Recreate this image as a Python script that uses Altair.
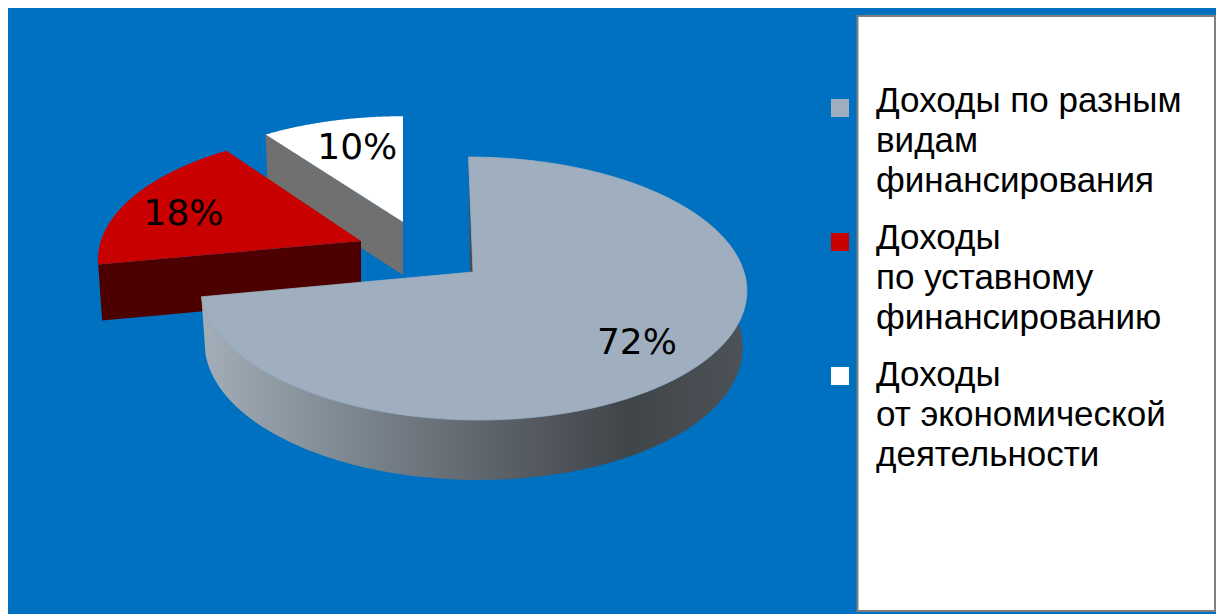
import math

import altair as alt
import pandas as pd

# Chart values
categories = ["Доходы по разным видам финансирования",
              "Доходы по уставному финансированию",
              "Доходы от экономической деятельности"]
shares = [72, 18, 10]
legend_lines = [
    ["Доходы по разным", "видам", "финансирования"],
    ["Доходы", "по уставному", "финансированию"],
    ["Доходы", "от экономической", "деятельности"],
]

# Colours
BLUE = "#0070c0"
TOP_COLORS = ["#a0afbf", "#c80000", "#ffffff"]
WALL_COLORS = ["#454b52", "#4d0000", "#707070"]

# Perspective pie layout: apex of each slice, its scale, shear and label placement
W, H = 1216, 614
RX, RY, TILT = 271, 129.4, 0.1255
APEX = [(473, 272), (361, 241), (403, 222)]
SCALE = [(1.0, 1.0), (0.96, 0.95), (0.95, 0.92)]
SHEAR = [5, -6, 0]
LABEL_RADIUS = [0.77, 0.78, 0.72]
LABEL_NUDGE = [(-10, 3), (3, 7), (7, 1)]
DEPTH = [56, 56, 53]


def project(i, theta, radius=1.0):
    """Map a point of the flat pie (clockwise degrees from top) to the tilted view."""
    u = radius * math.sin(math.radians(theta))
    v = radius * math.cos(math.radians(theta))
    s = 1 / (1 + TILT * v)
    sx, sy = SCALE[i]
    return (APEX[i][0] + (RX * u - SHEAR[i] * v) * s * sx,
            APEX[i][1] - RY * v * s * sy)


def lower(i, p, v=0.0):
    """Point on the underside of slice i, below the top-face point p."""
    ax = APEX[i][0]
    return (ax + (p[0] - ax) * 0.985, p[1] + DEPTH[i] - 4 * v)


def arc(i, start, end, steps=120):
    return [project(i, start + (end - start) * k / steps) for k in range(steps + 1)]


def polygon(points):
    ring = [list(p) for p in points]
    ring.append(ring[0])
    return {"type": "Feature", "properties": {},
            "geometry": {"type": "Polygon", "coordinates": [ring]}}


def shape(points, fill, **style):
    return alt.Chart(alt.Data(values=[polygon(points)])).mark_geoshape(
        fill=fill, clip=False, **style
    ).project(type="identity", scale=1, translate=[0, 0])


# Slice boundaries follow the shares, clockwise from the top
edges = [0]
for value in shares:
    edges.append(edges[-1] + value * 3.6)

x_scale = alt.Scale(domain=[0, W], range=[0, W])
y_scale = alt.Scale(domain=[0, H], range=[0, H])


def box(x0, y0, x1, y1, **style):
    frame = pd.DataFrame({"x": [x0], "x2": [x1], "y": [y0], "y2": [y1]})
    return alt.Chart(frame).mark_rect(**style).encode(
        x=alt.X("x:Q", scale=x_scale, axis=None),
        x2="x2:Q",
        y=alt.Y("y:Q", scale=y_scale, axis=None),
        y2="y2:Q",
    )


background = box(8, 8, W, H, color=BLUE)
panel = box(857.5, 16, 1215, 611, fill="#ffffff", stroke="#7f7f7f", strokeWidth=2)

# White slice: radial wall and top
i = 2
white_left = project(i, edges[2])
white_wall = [APEX[i], white_left, lower(i, white_left), lower(i, APEX[i])]
white_layers = [shape(white_wall, WALL_COLORS[i], strokeWidth=0),
                shape([APEX[i]] + arc(i, edges[2], edges[3]), TOP_COLORS[i], strokeWidth=0)]

# Red slice: radial wall and top
i = 1
red_left = project(i, edges[1])
red_wall = [APEX[i], red_left, lower(i, red_left), lower(i, APEX[i])]
red_layers = [shape(red_wall, WALL_COLORS[i], strokeWidth=0),
              shape([APEX[i]] + arc(i, edges[1], edges[2]), TOP_COLORS[i], strokeWidth=0)]

# Large slice: curved rim with a shaded gradient, thin inner wall, top
i = 0
rim_top = arc(i, 60, edges[1])
rim_bottom = []
for theta in [60 + (edges[1] - 60) * k / 120 for k in range(121)]:
    p = project(i, theta)
    rim_bottom.append(lower(i, p, math.cos(math.radians(theta))))
rim_fill = alt.Gradient(
    gradient="linear", x1=0, x2=1, y1=0, y2=0,
    stops=[
        alt.GradientStop(offset=0, color="#a3aeb9"),
        alt.GradientStop(offset=0.25, color="#7f8a93"),
        alt.GradientStop(offset=0.55, color="#5b6168"),
        alt.GradientStop(offset=0.78, color="#404549"),
        alt.GradientStop(offset=1, color="#4c5257"),
    ],
)
inner_wall = [project(i, 0), APEX[i], (APEX[i][0] - 3, APEX[i][1])]
main_layers = [shape(rim_top + rim_bottom[::-1], rim_fill, strokeWidth=0),
               shape(inner_wall, WALL_COLORS[i], strokeWidth=0),
               shape([APEX[i]] + arc(i, edges[0], edges[1]), TOP_COLORS[i],
                     stroke=TOP_COLORS[i], strokeWidth=0.8)]

# Percentage labels sit along each slice's middle direction
label_rows = []
for k, value in enumerate(shares):
    lx, ly = project(k, (edges[k] + edges[k + 1]) / 2, LABEL_RADIUS[k])
    label_rows.append({"x": lx + LABEL_NUDGE[k][0], "y": ly + LABEL_NUDGE[k][1],
                       "text": f"{value}%", "category": categories[k]})
labels = alt.Chart(pd.DataFrame(label_rows)).mark_text(
    font="DejaVu Sans", fontSize=36, color="#000000", align="center", baseline="middle"
).encode(
    x=alt.X("x:Q", scale=x_scale, axis=None),
    y=alt.Y("y:Q", scale=y_scale, axis=None),
    text="text:N",
)

# Legend: colour squares on the blue field, text inside the white panel
LEGEND_KEY_X, LEGEND_TEXT_X = 840, 876
LEGEND_KEY_Y = [108, 242, 376]
LEGEND_FIRST_BASE = [112, 249, 386]
LINE_STEP = 40

key_frame = pd.DataFrame({"x": [LEGEND_KEY_X] * 3, "y": LEGEND_KEY_Y,
                          "fill": TOP_COLORS})
legend_keys = alt.Chart(key_frame).mark_square(size=324, opacity=1, filled=True).encode(
    x=alt.X("x:Q", scale=x_scale, axis=None),
    y=alt.Y("y:Q", scale=y_scale, axis=None),
    color=alt.Color("fill:N", scale=None),
)

text_rows = []
for k, lines in enumerate(legend_lines):
    for n, line in enumerate(lines):
        text_rows.append({"x": LEGEND_TEXT_X, "y": LEGEND_FIRST_BASE[k] + n * LINE_STEP,
                          "text": line})
legend_text = alt.Chart(pd.DataFrame(text_rows)).mark_text(
    font="Liberation Sans", fontSize=35, color="#000000", align="left", baseline="alphabetic"
).encode(
    x=alt.X("x:Q", scale=x_scale, axis=None),
    y=alt.Y("y:Q", scale=y_scale, axis=None),
    text="text:N",
)

chart = alt.layer(
    background, panel,
    *white_layers, *red_layers, *main_layers,
    labels, legend_keys, legend_text,
).properties(
    width=W, height=H, padding=0, background="#ffffff",
    autosize=alt.AutoSizeParams(type="none"),
).configure_view(stroke=None)

chart.save("out.html", embed_options={"renderer": "svg", "actions": False})
